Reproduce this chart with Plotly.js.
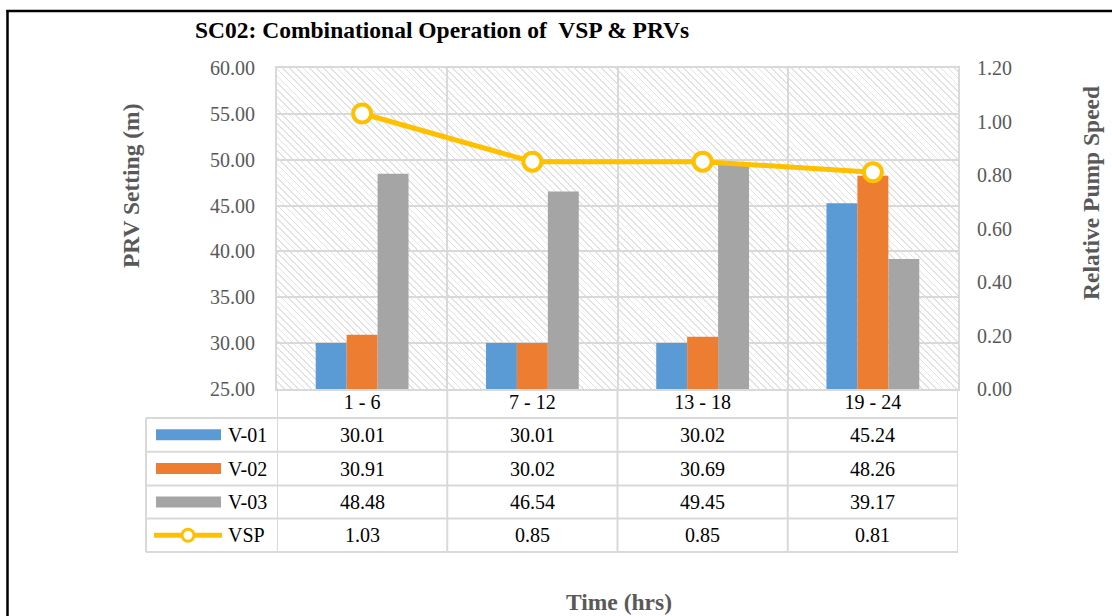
<!DOCTYPE html>
<html><head><meta charset="utf-8">
<script src="https://cdn.plot.ly/plotly-3.0.1.min.js"></script>
<style>
html,body{margin:0;padding:0;background:#fff;}
#wrap{position:relative;width:1112px;height:616px;overflow:hidden;}
#hatch{position:absolute;left:277px;top:68px;width:681px;height:321px;
  background:repeating-linear-gradient(45deg,#e3e3e3 0px,#e3e3e3 1.2px,#ffffff 1.2px,#ffffff 4.8px);}
#chart{position:absolute;left:0;top:0;width:1112px;height:616px;}
</style></head>
<body><div id="wrap"><div id="hatch"></div><div id="chart"></div></div>
<script>
// ---- data ----
const categories = ['1 - 6', '7 - 12', '13 - 18', '19 - 24'];
const v01 = [30.01, 30.01, 30.02, 45.24];
const v02 = [30.91, 30.02, 30.69, 48.26];
const v03 = [48.48, 46.54, 49.45, 39.17];
const vsp = [1.03, 0.85, 0.85, 0.81];
const seriesNames = ['V-01', 'V-02', 'V-03', 'VSP'];
const leftTicks = [25, 30, 35, 40, 45, 50, 55, 60];
const rightTicks = [0, 0.2, 0.4, 0.6, 0.8, 1.0, 1.2];
const axisTitles = {x: 'Time (hrs)', y: 'PRV Setting (m)', y2: 'Relative Pump Speed'};

// ---- styles / geometry ----
const FONT = 'Liberation Serif, Times New Roman, serif';
const colors = ['#5B9BD5', '#ED7D31', '#A5A5A5', '#FFC000'];
const GRID = '#d9d9d9';
const TXT = 20, TTL = 23.5;
const W = 1112, H = 616;
const L = 277, R = 958, T = 68, B = 389;
const pw = R - L, ph = B - T;
const px = x => (x - L) / pw;
const py = y => (B - y) / ph;

const barSeries = [v01, v02, v03];
const traces = barSeries.map((vals, i) => ({
  type: 'bar', x: categories, y: vals, name: seriesNames[i],
  marker: {color: colors[i]}, xaxis: 'x', yaxis: 'y', hoverinfo: 'skip'
}));
traces.push({
  type: 'scatter', mode: 'lines+markers', x: categories, y: vsp, name: seriesNames[3],
  xaxis: 'x', yaxis: 'y2', cliponaxis: false,
  line: {color: colors[3], width: 5},
  marker: {size: 18, color: '#ffffff', line: {color: colors[3], width: 4}},
  hoverinfo: 'skip'
});

// ---- data table ----
const rowLines = [418, 451.7, 485.5, 518.5, 552];   // horizontal lines (px)
const rowCenters = [434.8, 468.6, 502, 535.3];
const colBounds = [-0.5, 0.5, 1.5, 2.5, 3.5];
const tableLeft = 146;
const shapes = [];
const annotations = [];
const lineStyle = {color: GRID, width: 2};
rowLines.forEach(y => shapes.push({type: 'line', xref: 'paper', yref: 'paper',
  x0: px(tableLeft), x1: 1, y0: py(y), y1: py(y), line: lineStyle}));
colBounds.forEach(c => shapes.push({type: 'line', xref: 'x', yref: 'paper',
  x0: c, x1: c, y0: 0, y1: py(rowLines[rowLines.length - 1]), line: lineStyle}));
shapes.push({type: 'line', xref: 'paper', yref: 'paper', x0: px(tableLeft), x1: px(tableLeft),
  y0: py(rowLines[0]), y1: py(rowLines[rowLines.length - 1]), line: lineStyle});

const rows = [v01, v02, v03, vsp];
rows.forEach((vals, r) => {
  vals.forEach((v, c) => annotations.push({
    xref: 'x', yref: 'paper', x: categories[c], y: py(rowCenters[r]),
    text: v.toFixed(2), showarrow: false, xanchor: 'center', yanchor: 'middle',
    font: {family: FONT, size: TXT, color: '#000'}
  }));
  annotations.push({
    xref: 'paper', yref: 'paper', x: px(226), y: py(rowCenters[r]),
    text: seriesNames[r], showarrow: false, xanchor: 'left', yanchor: 'middle',
    font: {family: FONT, size: TXT, color: '#000'}
  });
  if (r < 3) {
    shapes.push({type: 'rect', xref: 'paper', yref: 'paper',
      x0: px(156), x1: px(221), y0: py(rowCenters[r] - 5.5), y1: py(rowCenters[r] + 5.5),
      fillcolor: colors[r], line: {width: 0}});
  } else {
    shapes.push({type: 'line', xref: 'paper', yref: 'paper',
      x0: px(154), x1: px(222), y0: py(rowCenters[r]), y1: py(rowCenters[r]),
      line: {color: colors[3], width: 5}});
    shapes.push({type: 'circle', xref: 'paper', yref: 'paper',
      x0: px(182), x1: px(194), y0: py(rowCenters[r] - 6), y1: py(rowCenters[r] + 6),
      fillcolor: '#ffffff', line: {color: colors[3], width: 3}});
  }
});

// ---- axis titles (placed as in the reference) ----
const titleFont = {family: FONT, size: TTL, color: '#595959', weight: 'bold'};
annotations.push({xref: 'paper', yref: 'paper', x: px(131), y: py(186), text: axisTitles.y,
  textangle: -90, showarrow: false, xanchor: 'center', yanchor: 'middle', font: titleFont});
annotations.push({xref: 'paper', yref: 'paper', x: px(1091), y: py(193), text: axisTitles.y2,
  textangle: -90, showarrow: false, xanchor: 'center', yanchor: 'middle', font: titleFont});
annotations.push({xref: 'paper', yref: 'paper', x: px(619), y: py(602), text: axisTitles.x,
  showarrow: false, xanchor: 'center', yanchor: 'middle', font: titleFont});

// ---- outer frame (top and left) ----
shapes.push({type: 'line', xref: 'paper', yref: 'paper', x0: px(6.5), x1: px(W + 10),
  y0: py(11), y1: py(11), line: {color: '#000', width: 2.5}});
shapes.push({type: 'line', xref: 'paper', yref: 'paper', x0: px(7.5), x1: px(7.5),
  y0: py(10), y1: py(H + 10), line: {color: '#000', width: 2.5}});

const layout = {
  width: W, height: H,
  margin: {l: L, r: W - R, t: T, b: H - B, pad: 0},
  paper_bgcolor: 'rgba(0,0,0,0)', plot_bgcolor: 'rgba(0,0,0,0)',
  showlegend: false,
  barmode: 'group', bargap: 0.455, bargroupgap: 0,
  font: {family: FONT, size: TXT, color: '#595959'},
  title: {text: 'SC02: Combinational Operation of  VSP &amp; PRVs',
    font: {family: FONT, size: 23.5, color: '#000', weight: 'bold'},
    xref: 'container', yref: 'container', x: 195 / W, xanchor: 'left', y: 1 - 30 / H, yanchor: 'middle'},
  xaxis: {
    type: 'category', range: [-0.5, 3.5], tickson: 'boundaries',
    showgrid: true, gridcolor: GRID, gridwidth: 2,
    showline: true, linecolor: GRID, linewidth: 2, mirror: true,
    ticks: '', ticklabelstandoff: -6, tickfont: {family: FONT, size: TXT, color: '#000'},
    fixedrange: true
  },
  yaxis: {
    range: [25, 60], tickvals: leftTicks, ticktext: leftTicks.map(v => v.toFixed(2)),
    showgrid: true, gridcolor: GRID, gridwidth: 2, zeroline: false,
    showline: true, linecolor: GRID, linewidth: 2, mirror: true,
    ticks: 'outside', ticklen: 16, tickcolor: 'rgba(0,0,0,0)',
    tickfont: {family: FONT, size: TXT, color: '#595959'},
    fixedrange: true
  },
  yaxis2: {
    overlaying: 'y', side: 'right', range: [0, 1.2],
    tickvals: rightTicks, ticktext: rightTicks.map(v => v.toFixed(2)),
    showgrid: false, zeroline: false, showline: false,
    ticks: 'outside', ticklen: 14, tickcolor: 'rgba(0,0,0,0)',
    tickfont: {family: FONT, size: TXT, color: '#595959'},
    fixedrange: true
  },
  shapes: shapes,
  annotations: annotations
};

Plotly.newPlot('chart', traces, layout, {displayModeBar: false, staticPlot: true});
</script>
</body></html>
